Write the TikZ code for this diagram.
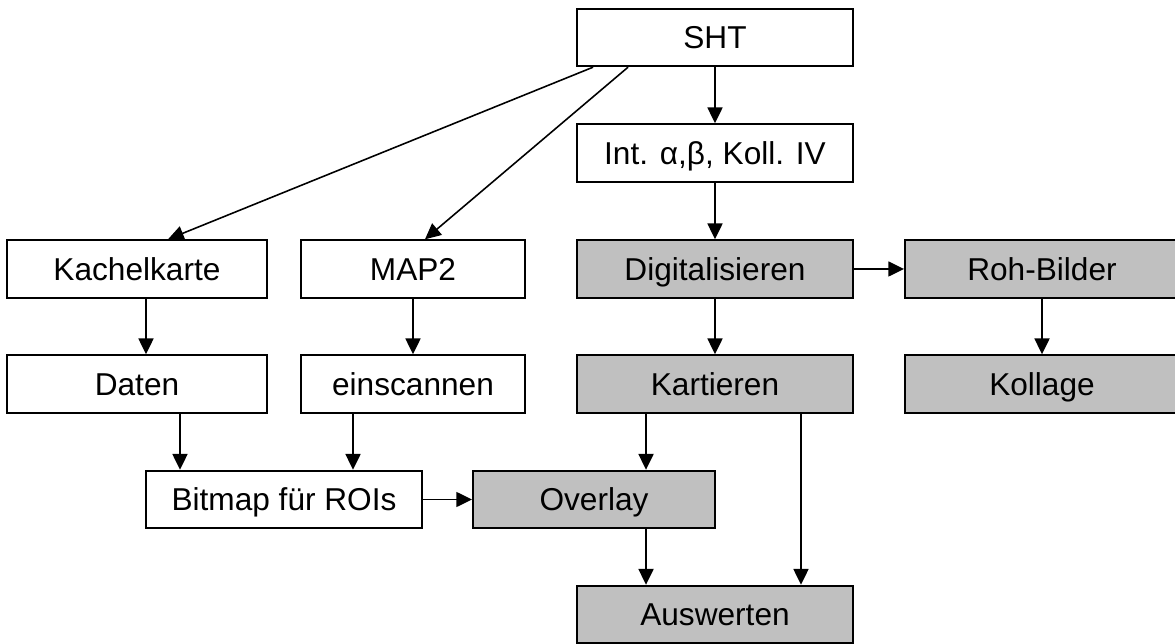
\documentclass[tikz,border=0pt]{standalone}
\usepackage{fontspec}
\setmainfont{Liberation Sans}
\usetikzlibrary{arrows.meta}
\definecolor{boxgray}{HTML}{C0C0C0}

\begin{document}
\begin{tikzpicture}[x=0.02cm, y=-0.02cm, line width=1.1pt,
  every node/.style={align=center, font=\fontsize{18}{21}\selectfont},
  box/.style={draw, inner sep=0pt, text height=12.9pt, text depth=0pt,
    minimum width=5.52cm, minimum height=1.15cm},
  greybox/.style={box, fill=boxgray},
  arr/.style={-{Triangle[length=9pt,width=8.5pt]}}]
\useasboundingbox (0,0) rectangle (1175,644);

\node (sht) [box] at (715,37.5) {SHT};
\node (int) [box] at (715,153) {Int. α,β, Koll. IV};
\node (kachel) [box, minimum width=5.2cm] at (137,269) {Kachelkarte};
\node (map) [box, minimum width=4.48cm] at (413,269) {MAP2};
\node (digi) [greybox] at (715,269) {Digitalisieren};
\node (roh) [greybox, minimum width=6.2cm] at (1060,269) {\hspace*{-0.72cm}Roh-Bilder};
\node (daten) [box, minimum width=5.2cm] at (137,384) {Daten};
\node (scan) [box, minimum width=4.48cm] at (413,384) {einscannen};
\node (kart) [greybox] at (715,384) {Kartieren};
\node (koll) [greybox, minimum width=6.2cm] at (1060,384) {\hspace*{-0.72cm}Kollage};
\node (bitmap) [box] at (284,499.5) {Bitmap für ROIs};
\node (overlay) [greybox, minimum width=4.84cm] at (594,499.5) {Overlay};
\node (ausw) [greybox] at (715,614.5) {Auswerten};

% top part
\draw[arr] (sht) -- (int);
\draw[arr, line width=0.9pt] ([xshift=-2.44cm]sht.south) -- ([xshift=0.62cm]kachel.north);
\draw[arr, line width=0.9pt] ([xshift=-1.74cm]sht.south) -- ([xshift=0.24cm]map.north);
\draw[arr] (int) -- (digi);
\draw[arr] (digi) -- (roh);

% left branch
\draw[arr] ([xshift=0.18cm]kachel.south) -- ([xshift=0.18cm]daten.north);
\draw[arr] (map) -- (scan);
\draw[arr] ([xshift=0.86cm]daten.south) -- ([xshift=0.86cm]daten.south |- bitmap.north);
\draw[arr] ([xshift=-1.2cm]scan.south) -- ([xshift=-1.2cm]scan.south |- bitmap.north);
\draw[arr] (bitmap.east) -- (overlay.west);

% right branch
\draw[arr] (digi) -- (kart);
\draw[arr] ([xshift=-0.36cm]roh.south) -- ([xshift=-0.36cm]koll.north);
\draw[arr] ([xshift=-1.38cm]kart.south) -- ([xshift=-1.38cm]kart.south |- overlay.north);
\draw[arr] ([xshift=-1.38cm]kart.south |- overlay.south) -- ([xshift=-1.38cm]ausw.north);
\draw[arr] ([xshift=1.72cm]kart.south) -- ([xshift=1.72cm]ausw.north);
\end{tikzpicture}
\end{document}
